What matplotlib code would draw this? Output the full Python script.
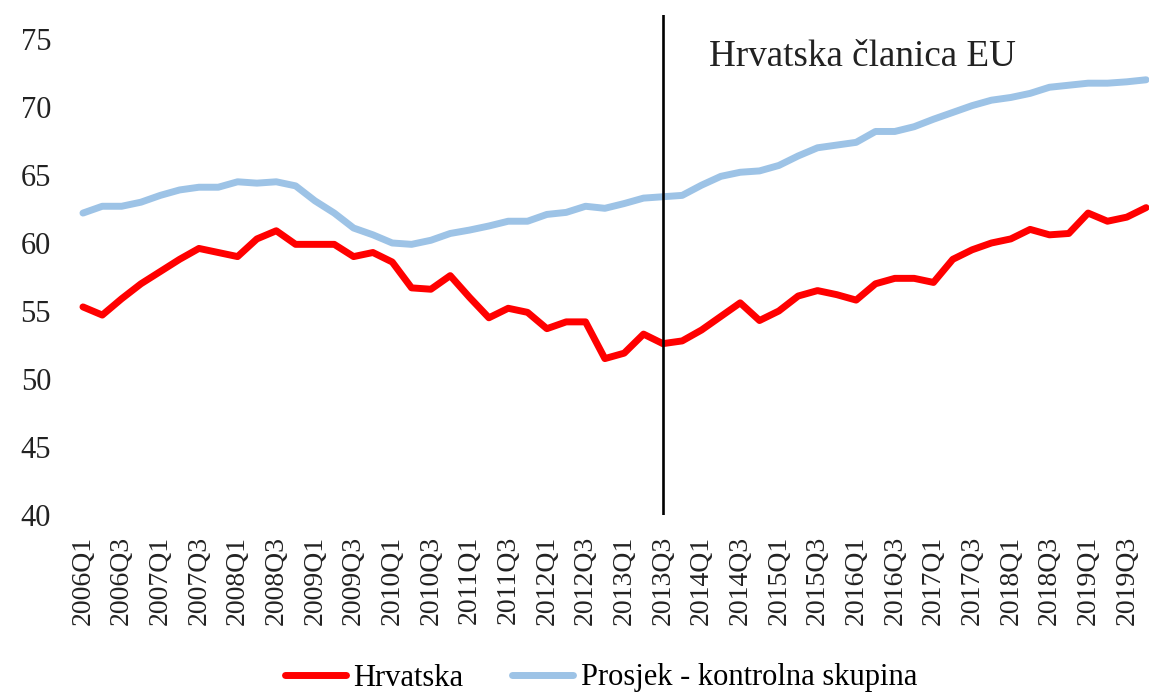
import matplotlib
matplotlib.use("Agg")
import matplotlib.pyplot as plt

plt.rcParams['font.family'] = ['Liberation Serif', 'DejaVu Serif']

quarters = [f"{y}Q{q}" for y in range(2006, 2020) for q in range(1, 5)]

hrvatska = [55.3, 54.7, 55.9, 57.0, 57.9, 58.8, 59.6, 59.3, 59.0, 60.3,
            60.9, 59.9, 59.9, 59.9, 59.0, 59.3, 58.6, 56.7, 56.6, 57.6,
            56.0, 54.5, 55.2, 54.9, 53.7, 54.2, 54.2, 51.5, 51.9, 53.3,
            52.6, 52.8, 53.6, 54.6, 55.6, 54.3, 55.0, 56.1, 56.5, 56.2,
            55.8, 57.0, 57.4, 57.4, 57.1, 58.8, 59.5, 60.0, 60.3, 61.0,
            60.6, 60.7, 62.2, 61.6, 61.9, 62.6]

prosjek = [62.2, 62.7, 62.7, 63.0, 63.5, 63.9, 64.1, 64.1, 64.5, 64.4,
           64.5, 64.2, 63.1, 62.2, 61.1, 60.6, 60.0, 59.9, 60.2, 60.7,
           60.95, 61.25, 61.6, 61.6, 62.1, 62.25, 62.7, 62.55, 62.9, 63.3,
           63.4, 63.5, 64.25, 64.9, 65.2, 65.3, 65.7, 66.4, 67.0, 67.2,
           67.4, 68.2, 68.2, 68.55, 69.1, 69.6, 70.1, 70.5, 70.7, 71.0,
           71.45, 71.6, 71.75, 71.75, 71.85, 72.0]

accession_label = "2013Q3"
annotation = "Hrvatska članica EU"
y_ticks = [40, 45, 50, 55, 60, 65, 70, 75]

W, H = 1149, 693
fig = plt.figure(figsize=(W / 100, H / 100), dpi=100)
left_px, right_px = 73.3, 1149
bottom_px, top_px = 515, 14.5
ax = fig.add_axes([left_px / W, 1 - bottom_px / H,
                   (right_px - left_px) / W, (bottom_px - top_px) / H])

x = list(range(len(quarters)))
ax.plot(x, hrvatska, color='#FF0000', lw=5.0, label='Hrvatska',
        solid_joinstyle='round', solid_capstyle='round')
ax.plot(x, prosjek, color='#9DC3E6', lw=5.0, label='Prosjek - kontrolna skupina',
        solid_joinstyle='round', solid_capstyle='round')

xi = quarters.index(accession_label)
ax.axvline(xi, color='black', lw=1.9, ymin=0, ymax=1)
ax.text(xi + 2.4, 73.7, annotation, fontsize=26.7, color='#222222',
        va='center', ha='left')

ax.set_xlim(-0.5, 55.15)
ax.set_ylim(40, 76.8)
ax.set_yticks(y_ticks)
ax.set_yticklabels([str(t) for t in y_ticks], fontsize=22, color='#222222')
ax.set_xticks(x[::2])
ax.set_xticklabels(quarters[::2], rotation=90, fontsize=20, color='#222222')
ax.tick_params(axis='both', length=0)
ax.tick_params(axis='x', pad=15)
ax.tick_params(axis='y', pad=16)
for s in ax.spines.values():
    s.set_visible(False)

fig.legend(loc='center', bbox_to_anchor=(601 / W, 1 - 678 / H), ncol=2,
           frameon=False, fontsize=22, handlelength=2.0, handletextpad=0.25,
           columnspacing=1.6)

fig.savefig('out.png', dpi=100)
